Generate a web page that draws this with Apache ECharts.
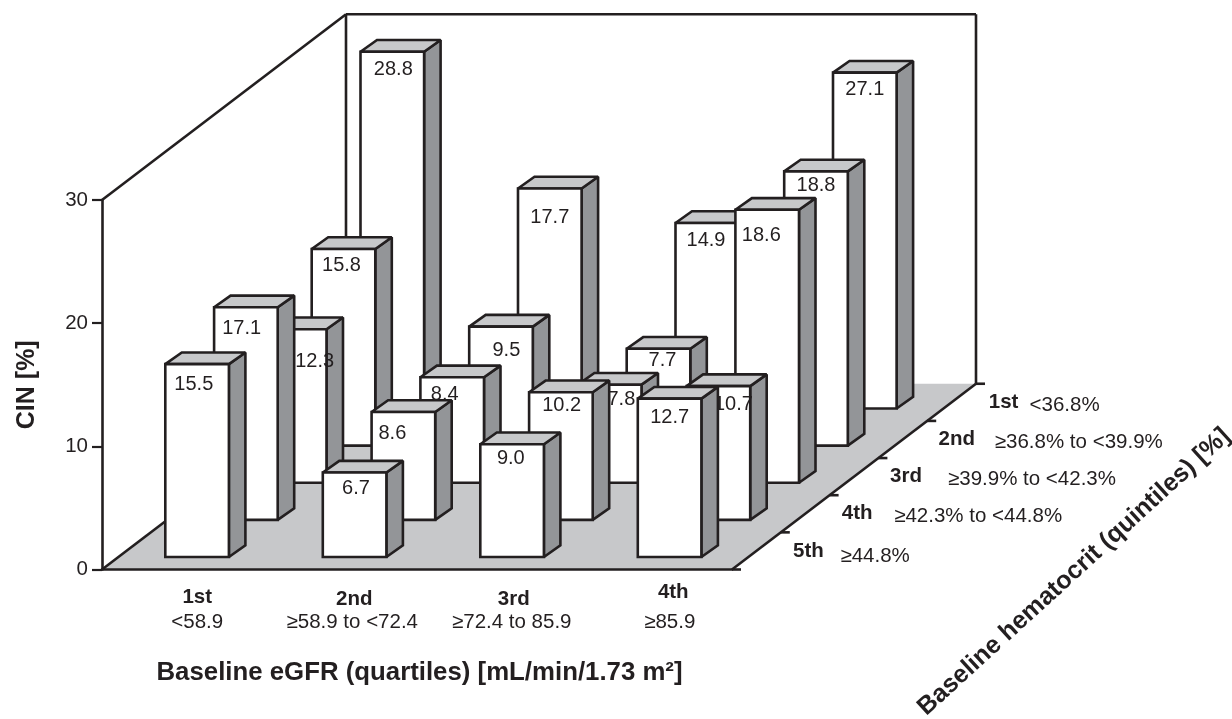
<!DOCTYPE html>
<html>
<head>
<meta charset="utf-8">
<style>html,body{margin:0;padding:0;background:#fff}#c{width:1232px;height:719px}</style>
<script src="https://cdn.jsdelivr.net/npm/echarts@6/dist/echarts.min.js"></script>
</head>
<body>
<div id="c"></div>
<script>
// ---- data ----
const egfrQuartiles = ['1st', '2nd', '3rd', '4th'];
const egfrRanges = ['<58.9', '≥58.9 to <72.4', '≥72.4 to 85.9', '≥85.9'];
const hctQuintiles = ['1st', '2nd', '3rd', '4th', '5th'];
const hctRanges = ['<36.8%', '≥36.8% to <39.9%', '≥39.9% to <42.3%', '≥42.3% to <44.8%', '≥44.8%'];
// bar heights as drawn, back row first
const hct1st = [28.8, 17.7, 14.9, 27.1];
const hct2nd = [15.8, 9.5, 7.7, 22.1];
const hct3rd = [12.3, 8.4, 7.8, 22.0];
const hct4th = [17.1, 8.6, 10.2, 10.7];
const hct5th = [15.5, 6.7, 9.0, 12.7];
// values as printed on the bars
const print1st = ['28.8', '17.7', '14.9', '27.1'];
const print2nd = ['15.8', '9.5', '7.7', '18.8'];
const print3rd = ['12.3', '8.4', '7.8', '18.6'];
const print4th = ['17.1', '8.6', '10.2', '10.7'];
const print5th = ['15.5', '6.7', '9.0', '12.7'];
const yTicks = { min: 0, max: 30, interval: 10 };

// ---- look ----
const INK = '#231f20', SIDE = '#939598', TOP = '#c7c8ca';
const FONT = '"Liberation Sans", Arial, sans-serif';
const STEP = [48.8, -37.15];          // one hematocrit row into the depth
const ROWS = 5;
const HALF = 31.8, BOX = [16.5, -11.7], LIFT = 2, INSET = 0.335;
const LW = 2.6;
// label nudges from bar's top centre [dx, dy], same shape as the rows
const nudges = [
  [[1, 17.5], [0, 29], [-1.3, 18], [0, 17]],
  [[-2, 16], [5.4, 23.6], [4, 12], [0, 14]],
  [[20, 32], [-7.5, 17], [11.7, 15], [-5.9, 26]],
  [[-4.3, 21.5], [-11, 22], [0.7, 13.3], [15, 18]],
  [[-3.3, 20.5], [1.4, 16], [-1.3, 14.5], [0, 19]]
];
const heights = [hct1st, hct2nd, hct3rd, hct4th, hct5th];
const printed = [print1st, print2nd, print3rd, print4th, print5th];

const barData = [];
heights.forEach((row, r) => row.forEach((v, c) => barData.push([c, v, r])));

// range-text gap, range-text drop, bold-name shift for the depth labels
const rangeGaps = [[78, 3, 52], [92, 3, 54], [94, 3, 52], [89, 3, 52], [84, 5, 52]];

function poly(points, fill) {
  return { type: 'polygon', shape: { points }, style: { fill, stroke: INK, lineWidth: LW, lineJoin: 'miter', miterLimit: 2 } };
}
function seg(a, b, w) {
  return { type: 'line', shape: { x1: a[0], y1: a[1], x2: b[0], y2: b[1] }, style: { stroke: INK, lineWidth: w || LW, fill: null } };
}
function txt(text, x, y, size, bold, align) {
  return { type: 'text', style: { text, x, y, fontSize: size, fontFamily: FONT, fontWeight: bold ? 'bold' : 'normal', fill: INK, align: align || 'center', verticalAlign: 'middle' } };
}

function renderFrame(params, api) {
  const band = api.size([1, 0])[0];
  const a = api.coord([0, 0]); a[0] -= band / 2;
  const b = api.coord([egfrQuartiles.length - 1, 0]); b[0] += band / 2;
  const t = api.coord([0, yTicks.max]); t[0] -= band / 2;
  const D = [STEP[0] * ROWS, STEP[1] * ROWS];
  const add = (p, d, k) => [p[0] + d[0] * (k === undefined ? 1 : k), p[1] + d[1] * (k === undefined ? 1 : k)];
  const children = [
    { type: 'polygon', shape: { points: [a, b, add(b, D), add(a, D)] }, style: { fill: TOP, stroke: null } },
    seg(a, add(a, D)), seg(b, add(b, D)),
    seg(t, add(t, D)),
    seg(add(t, D), add(a, D)),
    seg(add(t, D), [b[0] + D[0], t[1] + D[1]]),
    seg([b[0] + D[0], t[1] + D[1]], add(b, D))
  ];
  for (let k = 0; k <= ROWS; k++) {
    const p = add(b, STEP, k);
    children.push(seg(p, [p[0] + 9, p[1]]));
  }
  hctQuintiles.forEach((name, r) => {
    const p = add(b, STEP, ROWS - r - 0.5);
    children.push(txt(name, p[0] + rangeGaps[r][2], p[1], 20.5, true));
    children.push(txt(hctRanges[r], p[0] + rangeGaps[r][0], p[1] + rangeGaps[r][1], 20.5, false, 'left'));
  });
  const title = txt('Baseline hematocrit (quintiles) [%]', 0, 0, 25.2, true);
  title.x = 1074; title.y = 572; title.rotation = 0.74;
  children.push(title);
  return { type: 'group', children };
}

function renderBar(params, api) {
  const c = api.value(0), v = api.value(1), r = api.value(2);
  const depth = ROWS - 1 - r + INSET;
  const foot = api.coord([c, 0]), head = api.coord([c, v]);
  const cx = foot[0] + depth * STEP[0];
  const by = foot[1] + depth * STEP[1];
  const ty = head[1] + depth * STEP[1] - LIFT;
  const l = cx - HALF, w = cx + HALF;
  const n = nudges[r][c];
  return {
    type: 'group',
    children: [
      poly([[w, ty], [w + BOX[0], ty + BOX[1]], [w + BOX[0], by + BOX[1]], [w, by]], SIDE),
      poly([[l, ty], [l + BOX[0], ty + BOX[1]], [w + BOX[0], ty + BOX[1]], [w, ty]], TOP),
      poly([[l, ty], [w, ty], [w, by], [l, by]], '#fff'),
      txt(printed[r][c], cx + n[0], ty + n[1], 20, false)
    ]
  };
}

// per-label placement of the two-line category labels
const labelFit = [
  { padB: 33, padR: 33, b: 22, r: 28 },
  { padB: 32, padR: 28, b: 26, r: 20 },
  { padB: 36, padR: 32, b: 26, r: 20 },
  { padB: 40, padR: 33, b: 12, r: 48 }
];
const rich = {};
labelFit.forEach((n, i) => {
  rich['b' + i] = { fontFamily: FONT, fontWeight: 'bold', fontSize: 20.5, color: INK, lineHeight: n.b, padding: [0, 0, 0, n.padB] };
  rich['r' + i] = { fontFamily: FONT, fontSize: 20.5, color: INK, lineHeight: n.r, padding: [0, 0, 0, n.padR] };
});

const chart = echarts.init(document.getElementById('c'), null, { renderer: 'canvas' });
chart.setOption({
  animation: false,
  backgroundColor: '#fff',
  grid: { left: 102, right: 500, top: 200, bottom: 149.5, containLabel: false },
  xAxis: {
    type: 'category', data: egfrQuartiles, z: 5,
    name: 'Baseline eGFR (quartiles) [mL/min/1.73 m²]', nameLocation: 'middle', nameGap: 90,
    nameTextStyle: { fontFamily: FONT, fontWeight: 'bold', fontSize: 25.8, color: INK, padding: [0, 0, 0, 5] },
    axisLine: { lineStyle: { color: INK, width: LW } },
    axisTick: { length: 10, lineStyle: { color: INK, width: 2.2 } },
    axisLabel: {
      interval: 0, margin: 17, rich,
      formatter: (value, i) => '{b' + i + '|' + value + '}\n{r' + i + '|' + egfrRanges[i] + '}'
    },
    splitLine: { show: false }
  },
  yAxis: {
    type: 'value', min: yTicks.min, max: yTicks.max, interval: yTicks.interval, z: 5,
    name: 'CIN [%]', nameLocation: 'middle', nameGap: 62,
    nameTextStyle: { fontFamily: FONT, fontWeight: 'bold', fontSize: 25, color: INK },
    axisLine: { show: true, lineStyle: { color: INK, width: LW } },
    axisTick: { show: true, length: 10, lineStyle: { color: INK, width: 2.2 } },
    axisLabel: { fontFamily: FONT, fontSize: 20.5, color: INK, margin: 14 },
    splitLine: { show: false }
  },
  series: [
    { type: 'custom', name: 'frame', silent: true, z: 1, clip: false, renderItem: renderFrame, data: [[0, 0]], encode: { x: 0, y: 1 } },
    { type: 'custom', name: 'CIN', silent: true, z: 2, clip: false, renderItem: renderBar, data: barData, encode: { x: 0, y: 1 } }
  ]
});
</script>
</body>
</html>
